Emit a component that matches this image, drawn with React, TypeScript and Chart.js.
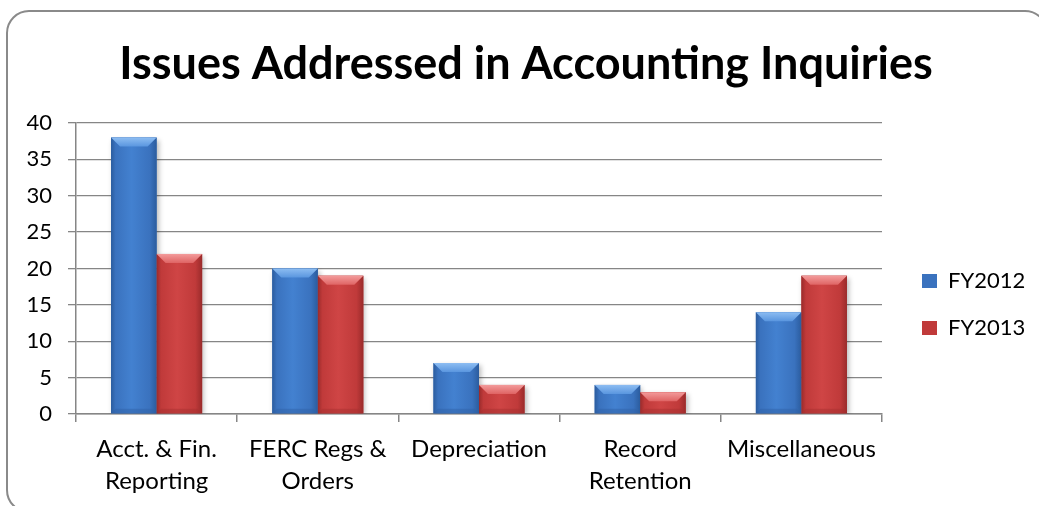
import React, { useEffect, useRef } from 'react';
import { Chart, registerables } from 'chart.js';

Chart.register(...registerables);

const categories: (string | string[])[] = [
  ['Acct. & Fin.', 'Reporting'],
  ['FERC Regs &', 'Orders'],
  'Depreciation',
  ['Record', 'Retention'],
  'Miscellaneous',
];
const seriesNames = ['FY2012', 'FY2013'];
const fy2012 = [38, 20, 7, 4, 14];
const fy2013 = [22, 19, 4, 3, 19];
const yMin = 0;
const yMax = 40;
const yStep = 5;
const titleText = 'Issues Addressed in Accounting Inquiries';

const FONT = 'Lato';
const GRID = '#868686';
const LEGEND_FONT = 22;
const LEGEND_PAD = 25;
const LEGEND_BOX = 15;

const palettes = [
  { edge: '#2b5c9e', body: '#3a72be', mid: '#4381d0', top: '#5a96df', topLight: '#8dbdf2', bottom: '#2f62a8' },
  { edge: '#9a2b2b', body: '#c03a3a', mid: '#cf4545', top: '#df6464', topLight: '#f39b9b', bottom: '#a83030' },
];

const framePlugin = {
  id: 'frame',
  beforeDraw(chart: any) {
    const { ctx, width, height } = chart;
    ctx.save();
    ctx.fillStyle = '#ffffff';
    ctx.fillRect(0, 0, width, height);
    const x = 7, y = 11, w = 1040, h = 501, r = 22;
    ctx.beginPath();
    ctx.moveTo(x + r, y);
    ctx.lineTo(x + w - r, y);
    ctx.arcTo(x + w, y, x + w, y + r, r);
    ctx.lineTo(x + w, y + h - r);
    ctx.arcTo(x + w, y + h, x + w - r, y + h, r);
    ctx.lineTo(x + r, y + h);
    ctx.arcTo(x, y + h, x, y + h - r, r);
    ctx.lineTo(x, y + r);
    ctx.arcTo(x, y, x + r, y, r);
    ctx.closePath();
    ctx.strokeStyle = '#8a8a8a';
    ctx.lineWidth = 2;
    ctx.stroke();
    ctx.restore();
  },
};

const bevelPlugin = {
  id: 'bevel',
  beforeDatasetsDraw(chart: any) {
    const ctx = chart.ctx;
    ctx.save();
    ctx.shadowColor = 'rgba(0,0,0,0.28)';
    ctx.shadowBlur = 5;
    ctx.shadowOffsetX = 2;
    ctx.shadowOffsetY = 2;
  },
  afterDatasetsDraw(chart: any) {
    const ctx = chart.ctx;
    ctx.restore();
    ctx.save();
    chart.data.datasets.forEach((_ds: any, di: number) => {
      const meta = chart.getDatasetMeta(di);
      const pal = palettes[di];
      meta.data.forEach((bar: any) => {
        const { x, y, base, width } = bar.getProps(['x', 'y', 'base', 'width'], true);
        const l = x - width / 2;
        const r = x + width / 2;
        const t = Math.min(y, base);
        const b = Math.max(y, base);
        const h = b - t;
        if (h <= 0) return;
        const bv = Math.min(9, h / 2, width / 3);
        const g = ctx.createLinearGradient(l, 0, r, 0);
        g.addColorStop(0, pal.edge);
        g.addColorStop(0.1, pal.body);
        g.addColorStop(0.45, pal.mid);
        g.addColorStop(0.85, pal.body);
        g.addColorStop(1, pal.edge);
        ctx.fillStyle = g;
        ctx.fillRect(l, t, width, h);
        // bottom bevel
        ctx.fillStyle = pal.bottom;
        ctx.globalAlpha = 0.5;
        ctx.beginPath();
        ctx.moveTo(l, b);
        ctx.lineTo(r, b);
        ctx.lineTo(r - bv * 0.5, b - bv * 0.5);
        ctx.lineTo(l + bv * 0.5, b - bv * 0.5);
        ctx.closePath();
        ctx.fill();
        ctx.globalAlpha = 1;
        // top bevel
        const gt = ctx.createLinearGradient(0, t, 0, t + bv);
        gt.addColorStop(0, pal.topLight);
        gt.addColorStop(1, pal.top);
        ctx.fillStyle = gt;
        ctx.beginPath();
        ctx.moveTo(l, t);
        ctx.lineTo(r, t);
        ctx.lineTo(r - bv, t + bv);
        ctx.lineTo(l + bv, t + bv);
        ctx.closePath();
        ctx.fill();
      });
    });
    ctx.restore();
  },
};

export default function App() {
  const ref = useRef<HTMLCanvasElement | null>(null);

  useEffect(() => {
    let chart: Chart | null = null;
    let cancelled = false;
    const make = () => {
      if (cancelled || !ref.current) return;
      // legend width as Chart.js computes it, so the legend box lands where wanted
      const mctx = document.createElement('canvas').getContext('2d') as CanvasRenderingContext2D;
      mctx.font = `${LEGEND_FONT}px ${FONT}`;
      const tw = Math.max(...seriesNames.map((n) => mctx.measureText(n).width));
      const legendW = LEGEND_PAD + LEGEND_BOX + LEGEND_FONT / 2 + tw + 10;
      const legendLeft = 922 - LEGEND_PAD;
      const padRight = Math.max(0, 1039 - legendLeft - legendW);
      const padLeft = 13 + padRight;
      chart = new Chart(ref.current, {
        type: 'bar',
        data: {
          labels: categories as any,
          datasets: [
            {
              label: seriesNames[0],
              data: fy2012,
              backgroundColor: palettes[0].body,
              borderWidth: 0,
              categoryPercentage: 0.565,
              barPercentage: 1,
            },
            {
              label: seriesNames[1],
              data: fy2013,
              backgroundColor: palettes[1].body,
              borderWidth: 0,
              categoryPercentage: 0.565,
              barPercentage: 1,
            },
          ],
        },
        options: {
          responsive: false,
          animation: false,
          events: [],
          layout: { padding: { left: padLeft, right: padRight, top: 0, bottom: 9 } },
          plugins: {
            title: {
              display: true,
              text: titleText,
              color: '#000000',
              font: { family: FONT, size: 45, weight: 'bold', lineHeight: 1.2 },
              padding: { top: 37, bottom: 32 },
            },
            legend: {
              position: 'right',
              fullSize: false,
              title: { display: true, text: ' ', font: { size: 10, lineHeight: 1 }, padding: 31 },
              labels: {
                font: { family: FONT, size: LEGEND_FONT },
                color: '#000000',
                boxWidth: LEGEND_BOX,
                boxHeight: 14,
                padding: LEGEND_PAD,
              },
            },
            tooltip: { enabled: false },
          },
          scales: {
            x: {
              grid: {
                display: true,
                drawOnChartArea: false,
                drawTicks: true,
                tickLength: 8,
                offset: true,
                color: GRID,
                lineWidth: 1.5,
              },
              border: { color: GRID, width: 1.5 },
              ticks: {
                font: { family: FONT, size: 24, lineHeight: 32 / 24 },
                color: '#000000',
                padding: 11,
                maxRotation: 0,
                autoSkip: false,
              },
              afterFit: (s: any) => {
                s.height = 83;
              },
            },
            y: {
              min: yMin,
              max: yMax,
              ticks: {
                stepSize: yStep,
                font: { family: FONT, size: 22 },
                color: '#000000',
                padding: 16,
              },
              grid: { color: GRID, lineWidth: 1.3, tickLength: 8 },
              border: { color: GRID, width: 1.5 },
              afterFit: (s: any) => {
                s.width = 76 - padLeft;
              },
            },
            yR: {
              type: 'linear',
              position: 'right',
              display: true,
              grid: { display: false },
              border: { display: false },
              ticks: { display: false },
              afterFit: (s: any) => {
                s.width = legendLeft - 882;
              },
            },
          },
        } as any,
        plugins: [framePlugin, bevelPlugin],
      });
    };
    const fonts: Promise<any>[] = [];
    try {
      fonts.push((document as any).fonts.load(`bold 45px ${FONT}`));
      fonts.push((document as any).fonts.load(`24px ${FONT}`));
    } catch (e) {}
    Promise.all(fonts).then(make, make);
    return () => {
      cancelled = true;
      if (chart) chart.destroy();
    };
  }, []);

  return (
    <div style={{ position: 'absolute', left: 0, top: 0, width: 1039, height: 506 }}>
      <canvas ref={ref} width={1039} height={506} style={{ display: 'block' }} />
    </div>
  );
}
